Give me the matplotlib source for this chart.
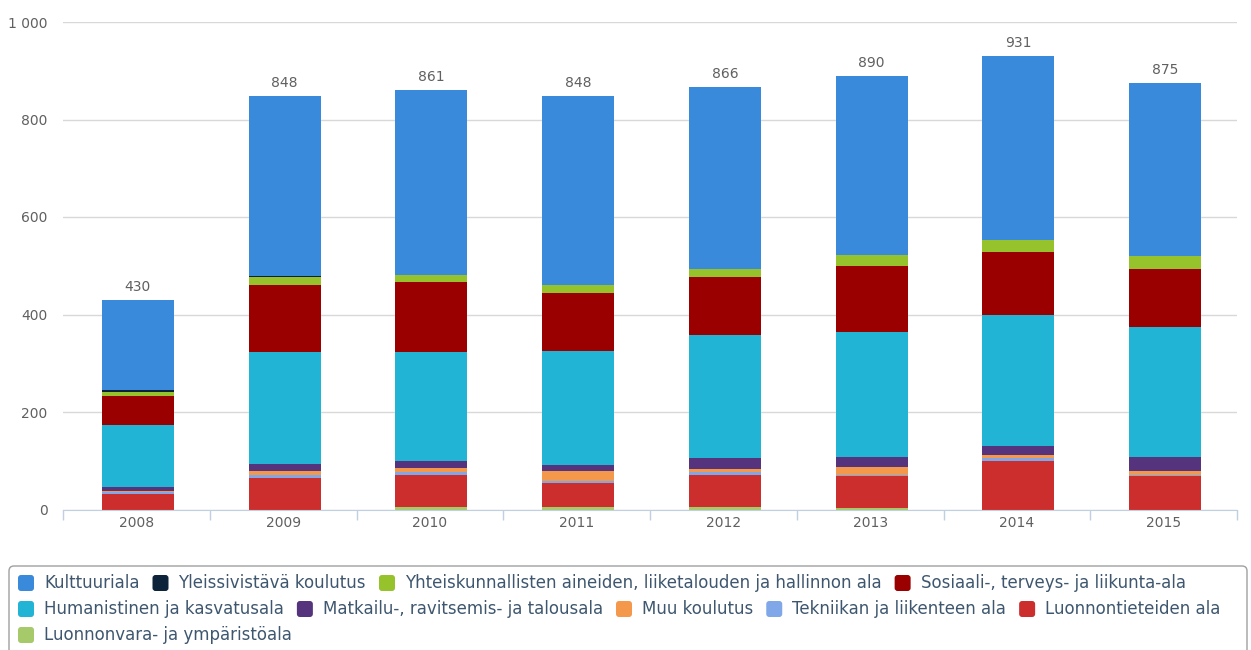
import numpy as np
import matplotlib
matplotlib.use("Agg")
import matplotlib.pyplot as plt
from matplotlib.patches import FancyBboxPatch
from matplotlib.ticker import FuncFormatter

plt.rcParams['font.family'] = ['DejaVu Sans']

years = ['2008', '2009', '2010', '2011', '2012', '2013', '2014', '2015']

# stacked from the bottom up
luonnonvara = [0, 0, 6, 6, 6, 4, 0, 0]
luonnontiede = [31, 65, 64, 48, 64, 64, 100, 68]
tekniikka = [4, 6, 6, 5, 6, 3, 6, 3]
muu = [2, 8, 9, 20, 8, 17, 5, 9]
matkailu = [10, 15, 15, 12, 21, 20, 20, 28]
humanistinen = [127, 230, 224, 235, 253, 256, 268, 267]
sosiaali = [58, 136, 143, 118, 118, 135, 130, 119]
yhteiskunta = [10, 16, 15, 17, 18, 24, 23, 25]
yleissivistava = [3, 3, 0, 0, 0, 0, 0, 0]
kulttuuri = [185, 369, 379, 387, 372, 367, 379, 356]

names = ['Kulttuuriala', 'Yleissivistävä koulutus',
         'Yhteiskunnallisten aineiden, liiketalouden ja hallinnon ala',
         'Sosiaali-, terveys- ja liikunta-ala', 'Humanistinen ja kasvatusala',
         'Matkailu-, ravitsemis- ja talousala', 'Muu koulutus',
         'Tekniikan ja liikenteen ala', 'Luonnontieteiden ala',
         'Luonnonvara- ja ympäristöala']
series = [kulttuuri, yleissivistava, yhteiskunta, sosiaali, humanistinen,
          matkailu, muu, tekniikka, luonnontiede, luonnonvara]
colors = ['#3a8adc', '#0d233a', '#96c22b', '#9a0000', '#22b4d5',
          '#55337d', '#f4984c', '#80a8e8', '#cc2e2e', '#a6c96a']

W, H = 1251, 650
fig = plt.figure(figsize=(W / 100, H / 100), dpi=100)
ax = fig.add_axes([63 / W, 140.5 / H, (1237 - 63) / W, 487.5 / H])

x = np.arange(len(years))
bottom = np.zeros(len(years))
for vals, col in zip(series[::-1], colors[::-1]):
    ax.bar(x + 0.01, vals, 0.49, bottom=bottom, color=col, linewidth=0, zorder=3)
    bottom += np.array(vals)

for i, tot in enumerate(bottom):
    ax.text(i + 0.01, tot + 12, '%d' % tot, ha='center', va='bottom',
            color='#606060', fontsize=10, zorder=4)

ax.set_xlim(-0.5, len(years) - 0.5)
ax.set_ylim(0, 1000)
ax.set_yticks(range(0, 1001, 200))
ax.yaxis.set_major_formatter(FuncFormatter(lambda v, p: '{:,}'.format(int(v)).replace(',', ' ')))
ax.grid(axis='y', color='#d8d8d8', linewidth=1, zorder=0)
ax.tick_params(axis='y', length=0, pad=11, labelcolor='#606060', labelsize=10)
ax.set_xticks(x)
ax.set_xticklabels(years)
ax.set_xticks(np.arange(-0.5, len(years)), minor=True)
ax.tick_params(axis='x', which='major', length=0, pad=5, labelcolor='#606060', labelsize=10)
ax.tick_params(axis='x', which='minor', length=7, width=1, color='#c0d0e0', direction='out')
for s in ['top', 'right', 'left']:
    ax.spines[s].set_visible(False)
ax.spines['bottom'].set_color('#c0d0e0')
ax.spines['bottom'].set_zorder(5)

# legend drawn in pixel space
lax = fig.add_axes([0, 0, 1, 1])
lax.set_xlim(0, W)
lax.set_ylim(H, 0)
lax.axis('off')
lax.add_patch(FancyBboxPatch((9, 566), 1238, 100, boxstyle='round,pad=0,rounding_size=5',
                             facecolor='white', edgecolor='#a0a0a0', linewidth=1))
rows = [[0, 1, 2, 3], [4, 5, 6, 7, 8], [9]]
row_y = [583, 609, 635]
renderer = fig.canvas.get_renderer()
for r, yy in zip(rows, row_y):
    cx = 18
    for k in r:
        lax.add_patch(FancyBboxPatch((cx, yy - 8), 16, 16, boxstyle='round,pad=0,rounding_size=3',
                                     facecolor=colors[k], edgecolor='none'))
        t = lax.text(cx + 26, yy, names[k], va='center', ha='left',
                     fontsize=12, color='#3e576f')
        cx += 26 + t.get_window_extent(renderer).width + 13

fig.savefig('out.png', dpi=100)
